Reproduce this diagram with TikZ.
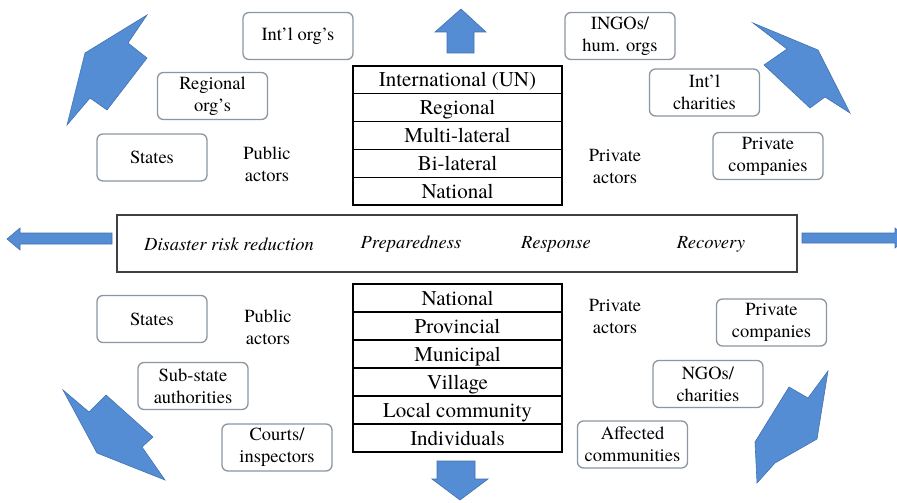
\documentclass[tikz,border=0pt]{standalone}
\usepackage{fontspec}
\setmainfont{texgyretermes}[Extension=.otf, UprightFont=*-regular,
	ItalicFont=*-italic, BoldFont=*-bold, BoldItalicFont=*-bolditalic]
\definecolor{pfeilblau}{RGB}{84,141,212}
\definecolor{pfeilrand}{RGB}{66,114,175}
\definecolor{kastenrand}{RGB}{140,150,160}
\tikzset{
	akteur/.style={draw=kastenrand, line width=1.3pt, rounded corners=6pt,
		fill=white, minimum width=110pt, minimum height=47pt, align=center,
		inner sep=2pt, font=\fontsize{18.5}{22}\selectfont},
	gruppe/.style={align=center, font=\fontsize{18.5}{22}\selectfont},
	ebene/.style={draw=black, line width=1.2pt, minimum width=209pt,
		minimum height=#1, inner sep=0pt, text height=16.5pt, text depth=2.5pt,
		font=\fontsize{21}{22}\selectfont},
	phase/.style={font=\fontsize{18.5}{22}\selectfont\itshape},
	blockpfeil/.style={fill=pfeilblau, draw=pfeilrand, line width=0.6pt}
}
\begin{document}
\begin{tikzpicture}[x=1pt, y=-1pt]
	\useasboundingbox (0,0) rectangle (897,503);
	\clip (0,0) rectangle (897,503);
	% Ebenen oben
	\foreach \t [count=\i] in {International (UN), Regional, Multi-lateral,
		Bi-lateral, National}
		\node[ebene=27.8pt] (oben\i) at (457.5, 52.1 + 27.8*\i) {\t};
	% Ebenen unten
	\foreach \t [count=\i] in {National, Provincial, Municipal, Village,
		Local community, Individuals}
		\node[ebene=28pt] (unten\i) at (457.5, 270 + 28*\i) {\t};
	% Phasen
	\node[draw=black!75, line width=1.3pt, minimum width=680pt,
		minimum height=57pt] (phasen) at (457, 243.5) {};
	\node[phase] (drr) at (229, 244) {Disaster risk reduction};
	\node[phase] (prep) at (411, 244) {Preparedness};
	\node[phase] (resp) at (556, 244) {Response};
	\node[phase] (reco) at (711, 244) {Recovery};
	% Akteure oben
	\node[akteur] (intorg) at (298, 36) {Int’l org’s};
	\node[akteur] (regorg) at (212.5, 96) {Regional\\org’s};
	\node[akteur] (staaten1) at (152, 157.5) {States};
	\node[gruppe] (oeff1) at (267, 164) {Public\\actors};
	\node[akteur] (ingo) at (620, 36) {INGOs/\\hum. orgs};
	\node[akteur] (charity) at (704.5, 92.5) {Int’l\\charities};
	\node[akteur] (firmen1) at (768, 156) {Private\\companies};
	\node[gruppe] (priv1) at (615, 166) {Private\\actors};
	% Akteure unten
	\node[akteur] (staaten2) at (152, 319) {States};
	\node[gruppe] (oeff2) at (268, 327.5) {Public\\actors};
	\node[akteur] (substaat) at (193, 386) {Sub-state\\authorities};
	\node[akteur] (gerichte) at (277, 447.5) {Courts/\\inspectors};
	\node[akteur] (firmen2) at (771.5, 322.5) {Private\\companies};
	\node[gruppe] (priv2) at (615, 316.5) {Private\\actors};
	\node[akteur] (ngo) at (708, 384) {NGOs/\\charities};
	\node[akteur] (betroffen) at (632.5, 444.5) {Affected\\communities};
	% Pfeile gerade
	\filldraw[blockpfeil] (447,53) -- (447,32) -- (435,32) -- (461,9)
		-- (486,32) -- (474,32) -- (474,53) -- cycle;
	\filldraw[blockpfeil] (437,461) -- (437,479) -- (432,479) -- (460,500)
		-- (488,479) -- (475,479) -- (475,461) -- cycle;
	\filldraw[blockpfeil] (112,233) -- (20,233) -- (20,228) -- (7,239)
		-- (20,250) -- (20,244) -- (112,244) -- cycle;
	\filldraw[blockpfeil] (802,233) -- (895,233) -- (895,228) -- (908,238)
		-- (895,248) -- (895,243) -- (802,243) -- cycle;
	% Pfeile schraeg
	\filldraw[blockpfeil] (147,15) -- (128,43) -- (147,58) -- (107,110)
		-- (90,98) -- (67,125) -- (85,53) -- cycle;
	\filldraw[blockpfeil] (753,23) -- (818,50) -- (850,113) -- (825,97)
		-- (810,108) -- (764,65) -- (787,49) -- cycle;
	\filldraw[blockpfeil] (63,390) -- (89,412) -- (106,395) -- (153,437)
		-- (142,447) -- (165,480) -- (97,453) -- cycle;
	\filldraw[blockpfeil] (828,371) -- (817,439) -- (775,463) -- (757,483)
		-- (755,442) -- (789,387) -- (808,398) -- cycle;
\end{tikzpicture}
\end{document}
